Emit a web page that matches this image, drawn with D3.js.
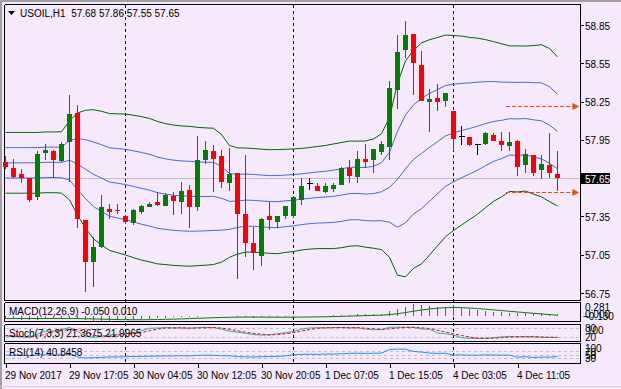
<!DOCTYPE html>
<html>
<head>
<meta charset="utf-8">
<script src="https://cdn.jsdelivr.net/npm/d3@7/dist/d3.min.js"></script>
<style>
	html, body { margin: 0; padding: 0; background: #f5e9fb; }
	svg { display: block; }
	text { font-family: "Liberation Sans", Arial, sans-serif; font-size: 10px; fill: #000; }
</style>
</head>
<body>
<div id="chart"></div>
<script>
// USOIL,H1 candles
var opens = [57.78,57.73,57.68,57.65,57.50,57.85,57.86,57.79,57.93,58.16,
	57.32,56.99,57.11,57.41,57.40,57.35,57.30,57.38,57.43,57.46,
	57.43,57.51,57.46,57.56,57.42,57.79,57.86,57.82,57.61,57.69,
	57.37,57.14,57.04,57.35,57.30,57.35,57.35,57.48,57.61,57.59,
	57.54,57.57,57.60,57.73,57.66,57.80,57.79,57.86,57.90,58.34,
	58.65,58.78,58.54,58.25,58.28,58.26,58.18,57.98,57.97,57.91,
	57.91,57.99,57.94,57.90,57.94,57.75,57.83,57.71,57.75,57.68];
var highs = [57.82,57.80,57.72,57.65,57.86,57.92,57.87,57.93,58.30,58.22,
	57.32,57.19,57.52,57.45,57.45,57.36,57.41,57.44,57.46,57.54,
	57.53,57.54,57.62,57.60,57.98,57.94,57.91,57.87,57.89,57.69,
	57.83,57.27,57.34,57.46,57.35,57.43,57.51,57.65,57.65,57.61,
	57.61,57.61,57.74,57.79,57.86,57.92,57.88,57.94,58.41,58.77,
	58.88,58.78,58.65,58.35,58.39,58.32,58.18,58.06,57.97,57.91,
	58.01,58.00,58.01,58.01,57.95,57.88,57.83,57.83,58.00,57.86];
var lows = [57.72,57.65,57.61,57.46,57.48,57.79,57.65,57.78,57.62,57.26,
	56.76,56.80,57.10,57.33,57.37,57.29,57.28,57.37,57.42,57.43,
	57.43,57.36,57.37,57.26,57.39,57.76,57.54,57.57,57.55,56.86,
	57.03,56.93,56.96,57.24,57.26,57.33,57.34,57.44,57.56,57.55,
	57.53,57.54,57.60,57.61,57.61,57.73,57.69,57.83,57.79,58.19,
	58.59,58.30,58.26,58.01,58.18,58.21,57.86,57.91,57.90,57.83,
	57.91,57.94,57.86,57.86,57.67,57.69,57.67,57.64,57.65,57.55];
var closes = [57.74,57.66,57.65,57.48,57.84,57.87,57.79,57.92,58.15,57.33,
	56.99,57.11,57.42,57.39,57.39,57.30,57.40,57.43,57.45,57.44,
	57.52,57.47,57.55,57.43,57.79,57.87,57.80,57.62,57.68,57.37,
	57.14,57.06,57.33,57.32,57.35,57.43,57.50,57.59,57.61,57.55,
	57.59,57.60,57.73,57.67,57.80,57.78,57.88,57.92,58.36,58.64,
	58.77,58.55,58.26,58.27,58.25,58.32,57.96,57.98,57.91,57.91,
	58.00,57.94,57.91,57.93,57.74,57.84,57.69,57.76,57.69,57.65];

// bollinger middle line and one deviation (blue = 1 dev, green = 2 dev)
var bbMid = [57.77,57.77,57.77,57.77,57.77,57.774,57.774,57.773,57.79,57.76,
	57.72,57.68,57.65,57.62,57.61,57.60,57.585,57.57,57.556,57.536,
	57.525,57.516,57.511,57.508,57.506,57.506,57.507,57.492,57.468,57.471,
	57.478,57.476,57.471,57.467,57.466,57.472,57.477,57.485,57.492,57.498,
	57.502,57.508,57.517,57.529,57.530,57.525,57.529,57.544,57.578,57.641,
	57.723,57.797,57.844,57.891,57.936,57.981,58.004,58.023,58.039,58.057,
	58.077,58.094,58.103,58.116,58.114,58.117,58.107,58.099,58.066,58.016];
var bbDev = [0.119,0.119,0.119,0.119,0.119,0.119,0.119,0.120,0.155,0.200,
	0.231,0.253,0.262,0.268,0.272,0.276,0.279,0.281,0.281,0.279,
	0.276,0.275,0.274,0.274,0.271,0.269,0.267,0.250,0.219,0.208,
	0.204,0.203,0.203,0.203,0.204,0.202,0.201,0.199,0.199,0.200,
	0.202,0.205,0.206,0.206,0.205,0.208,0.214,0.227,0.274,0.376,
	0.423,0.427,0.433,0.422,0.408,0.395,0.382,0.370,0.357,0.345,
	0.329,0.313,0.300,0.285,0.286,0.284,0.291,0.298,0.300,0.292];

var macdMain = [-0.085,-0.09,-0.095,-0.10,-0.095,-0.09,-0.09,-0.085,-0.07,-0.085,
	-0.11,-0.13,-0.125,-0.12,-0.115,-0.11,-0.10,-0.085,-0.07,-0.06,
	-0.05,-0.045,-0.04,-0.04,-0.025,-0.012,-0.008,-0.01,-0.012,-0.025,
	-0.04,-0.05,-0.045,-0.042,-0.038,-0.032,-0.024,-0.015,-0.008,-0.004,
	0.002,0.008,0.016,0.02,0.03,0.035,0.042,0.05,0.10,0.15,
	0.22,0.281,0.255,0.237,0.22,0.22,0.25,0.19,0.15,0.13,
	0.105,0.09,0.08,0.075,0.07,0.065,0.06,0.055,0.045,0.035];
var macdSignal = [-0.07,-0.07,-0.07,-0.07,-0.07,-0.07,-0.07,-0.07,-0.07,-0.07,
	-0.075,-0.08,-0.085,-0.09,-0.095,-0.098,-0.10,-0.10,-0.098,-0.095,
	-0.09,-0.085,-0.08,-0.072,-0.065,-0.058,-0.05,-0.045,-0.04,-0.037,
	-0.035,-0.035,-0.036,-0.037,-0.038,-0.038,-0.037,-0.035,-0.033,-0.03,
	-0.027,-0.023,-0.018,-0.012,-0.006,0.0,0.006,0.012,0.025,0.045,
	0.075,0.105,0.135,0.16,0.18,0.192,0.197,0.192,0.183,0.17,
	0.155,0.14,0.122,0.105,0.088,0.072,0.056,0.04,0.025,0.01];

var stochMain = [30,28,25,22,45,60,62,72,85,60,
	30,22,30,38,42,45,50,65,80,82,
	84,82,83,80,84,86,85,75,62,55,
	48,40,37,38,45,52,60,75,82,84,
	84,85,85,83,84,75,71,72,86,87,
	86,86,76,74,50,45,37,20,16,15,
	16,20,25,27,25,27,26,22,22,21.37];
var stochSignal = [35,31,28,25,31,42,56,65,73,72,
	58,37,27,30,37,42,46,53,65,75,
	82,83,83,82,82,83,85,82,74,64,
	55,48,42,38,40,45,52,62,72,80,
	83,84,85,84,84,81,77,73,76,82,
	86,86,83,79,67,56,44,34,24,17,
	16,17,20,24,26,26,26,25,23,22];

var rsi = [50,49,48,46,51,52,50,52,55,38,
	32,34,36,38,39,40,41,42,43,44,
	45,45,46,45,48,49,48,46,46,41,
	39,38,40,41,42,45,52,54,55,54,
	56,56,58,60,61,60,61,62,84,86,
	86,72,68,62,60,61,50,51,49,49,
	51,50,49,50,37,40,35,38,37,40.85];

var priceTicks = [58.85, 58.55, 58.25, 57.95, 57.65, 57.35, 57.05, 56.75];
var timeTicks = [0, 8, 16, 24, 32, 40, 48, 56, 64];
var timeLabels = ['29 Nov 2017', '29 Nov 17:05', '30 Nov 04:05', '30 Nov 12:05', '30 Nov 20:05',
	'1 Dec 07:05', '1 Dec 15:05', '4 Dec 03:05', '4 Dec 11:05'];
var daySeps = [15, 36, 56];
var levels = [58.21, 57.54];

var W = 621, H = 389
	, L = 4.5, R = 580.5
	, mainP = [4.5, 300.5], macdP = [302.5, 321.5], stochP = [324.5, 341.5], rsiP = [343.5, 363.5]
	, n = closes.length
	;

var x = d3.scaleLinear().domain([0, n - 1]).range([5.5, 557.5])
	, y = d3.scaleLinear().domain([56.75, 58.85]).range([293, 25])
	, macdY = d3.scaleLinear().domain([d3.min(macdMain.concat(macdSignal)), d3.max(macdMain)]).range([321, 304])
	, stochY = d3.scaleLinear().domain([0, 100]).range([340.8, 325.2])
	, rsiY = d3.scaleLinear().domain([0, 100]).range([363.3, 346.8])
	, crisp = function(v){ return Math.round(v - 0.5) + 0.5; }
	;

var svg = d3.select('#chart').append('svg').attr('width', W).attr('height', H);
svg.append('rect').attr('width', W).attr('height', H).attr('fill', '#f5e9fb');

// window edges
svg.append('rect').attr('x', 0).attr('y', 0).attr('width', 2).attr('height', H).attr('fill', '#a0a0a0');
svg.append('rect').attr('x', 0).attr('y', 0).attr('width', W).attr('height', 2).attr('fill', '#a0a0a0');
svg.append('line').attr('x1', 0).attr('x2', W).attr('y1', 386.5).attr('y2', 386.5).attr('stroke', '#d4d4d4');

var frame = svg.append('g').attr('stroke', '#000').attr('shape-rendering', 'crispEdges');
[mainP, macdP, stochP, rsiP].forEach(function(p){
	frame.append('line').attr('x1', L).attr('x2', R).attr('y1', p[0]).attr('y2', p[0]);
	frame.append('line').attr('x1', L).attr('x2', R).attr('y1', p[1]).attr('y2', p[1]);
	frame.append('line').attr('x1', L).attr('x2', L).attr('y1', p[0]).attr('y2', p[1]);
	frame.append('line').attr('x1', R).attr('x2', R).attr('y1', p[0]).attr('y2', p[1]);
});

// day separators
svg.append('g').selectAll('line').data(daySeps).enter().append('line')
	.attr('x1', function(d){ return x(d); }).attr('x2', function(d){ return x(d); })
	.attr('y1', 5).attr('y2', 363)
	.attr('stroke', '#000').attr('stroke-dasharray', '3,3').attr('shape-rendering', 'crispEdges');

// last price line
svg.append('line').attr('x1', L).attr('x2', R - 1)
	.attr('y1', crisp(y(closes[n - 1]))).attr('y2', crisp(y(closes[n - 1])))
	.attr('stroke', '#c0c0c0').attr('shape-rendering', 'crispEdges');

// bollinger bands
var bands = [
	{k: 2, c: '#006400'}, {k: 1, c: '#4169e1'}, {k: 0, c: '#4169e1'}, {k: -1, c: '#4169e1'}, {k: -2, c: '#006400'}
];
bands.forEach(function(b){
	var line = d3.line().x(function(d, i){ return x(i); }).y(function(d, i){ return y(d + b.k * bbDev[i]); });
	svg.append('path').attr('d', line(bbMid)).attr('fill', 'none').attr('stroke', b.c).attr('stroke-width', 1);
});

// candles
var cg = svg.append('g').attr('shape-rendering', 'crispEdges');
var colour = function(i){ return closes[i] > opens[i] ? '#008000' : closes[i] < opens[i] ? '#ff0000' : '#000000'; };
cg.selectAll('line.wick').data(d3.range(n)).enter().append('line').attr('class', 'wick')
	.attr('x1', function(i){ return x(i); }).attr('x2', function(i){ return x(i); })
	.attr('y1', function(i){ return y(highs[i]); }).attr('y2', function(i){ return y(lows[i]); })
	.attr('stroke', colour);
cg.selectAll('rect').data(d3.range(n).filter(function(i){ return closes[i] !== opens[i]; })).enter().append('rect')
	.attr('x', function(i){ return x(i) - 2.5; }).attr('width', 5)
	.attr('y', function(i){ return Math.round(y(Math.max(opens[i], closes[i]))); })
	.attr('height', function(i){ return Math.max(1, Math.round(Math.abs(y(opens[i]) - y(closes[i])))); })
	.attr('fill', colour);
cg.selectAll('line.doji').data(d3.range(n).filter(function(i){ return closes[i] === opens[i]; })).enter().append('line').attr('class', 'doji')
	.attr('x1', function(i){ return x(i) - 3; }).attr('x2', function(i){ return x(i) + 3; })
	.attr('y1', function(i){ return crisp(y(opens[i])); }).attr('y2', function(i){ return crisp(y(opens[i])); })
	.attr('stroke', '#000');

// orange target arrows
levels.forEach(function(v){
	var yy = crisp(y(v));
	svg.append('line').attr('x1', x(62.5)).attr('x2', R - 7).attr('y1', yy).attr('y2', yy)
		.attr('stroke', '#ff4500').attr('stroke-dasharray', '4,2').attr('shape-rendering', 'crispEdges');
	svg.append('path').attr('d', 'M' + (R - 8) + ',' + (yy - 3.5) + 'L' + (R - 1.5) + ',' + yy + 'L' + (R - 8) + ',' + (yy + 3.5) + 'Z')
		.attr('fill', '#ff4500');
});

// price axis
var pAxis = svg.append('g').attr('transform', 'translate(' + R + ',0)')
	.call(d3.axisRight(y).tickValues(priceTicks).tickSize(3).tickFormat(d3.format('.2f')));
pAxis.select('.domain').remove();
pAxis.selectAll('line').attr('stroke', '#000').attr('shape-rendering', 'crispEdges');
pAxis.selectAll('text').attr('x', 4.5).attr('dy', '0.4em').attr('font-family', null).attr('font-size', null);
pAxis.attr('font-family', null).attr('font-size', null);

// current price tag
svg.append('rect').attr('x', 580).attr('y', crisp(y(closes[n - 1])) - 5.5).attr('width', 30).attr('height', 11).attr('fill', '#000');
svg.append('text').attr('x', 585).attr('y', crisp(y(closes[n - 1])) + 4).style('fill', '#fff').text(d3.format('.2f')(closes[n - 1]));

// header
svg.append('path').attr('d', 'M8,11L15,11L11.5,15Z').attr('fill', '#000');
svg.append('text').attr('x', 20).attr('y', 16.5).attr('xml:space', 'preserve')
	.text('USOIL,H1  ' + [opens[n - 1], highs[n - 1], lows[n - 1], closes[n - 1]].map(d3.format('.2f')).join(' '));

// MACD pane
svg.append('g').attr('shape-rendering', 'crispEdges').selectAll('line').data(macdMain).enter().append('line')
	.attr('x1', function(d, i){ return x(i); }).attr('x2', function(d, i){ return x(i); })
	.attr('y1', Math.round(macdY(0))).attr('y2', function(d){ return Math.round(macdY(d)); })
	.attr('stroke', '#9932cc');
svg.append('path').attr('d', d3.line().x(function(d, i){ return x(i); }).y(function(d){ return macdY(d); })(macdSignal))
	.attr('fill', 'none').attr('stroke', '#008000');
svg.append('text').attr('x', 9).attr('y', 315).text('MACD(12,26,9) -0.050 0.010');
svg.append('text').attr('x', 585).attr('y', 311).text(d3.format('.3f')(d3.max(macdMain)));
svg.append('text').attr('x', 585).attr('y', 318).text('0.000');
svg.append('text').attr('x', 583).attr('y', 319.5).text(d3.format('.3f')(d3.min(macdMain)));

// Stochastic pane
[80, 20].forEach(function(v){
	svg.append('line').attr('x1', L + 1).attr('x2', R - 1).attr('y1', crisp(stochY(v))).attr('y2', crisp(stochY(v)))
		.attr('stroke', '#c0c0c0').attr('stroke-dasharray', '3,3').attr('shape-rendering', 'crispEdges');
});
svg.append('path').attr('d', d3.line().x(function(d, i){ return x(i); }).y(function(d){ return stochY(d); })(stochMain))
	.attr('fill', 'none').attr('stroke', '#20b2aa');
svg.append('path').attr('d', d3.line().x(function(d, i){ return x(i); }).y(function(d){ return stochY(d); })(stochSignal))
	.attr('fill', 'none').attr('stroke', '#ff0000').attr('stroke-dasharray', '3,2');
svg.append('text').attr('x', 9).attr('y', 337).text('Stoch(7,3,3) 21.3675 21.9965');
svg.append('text').attr('x', 585).attr('y', 331.5).text('80');
svg.append('text').attr('x', 587).attr('y', 333.5).text('100');
svg.append('text').attr('x', 585).attr('y', 340.5).text('20');

// RSI pane
[70, 50, 30].forEach(function(v){
	svg.append('line').attr('x1', L + 1).attr('x2', R - 1).attr('y1', crisp(rsiY(v))).attr('y2', crisp(rsiY(v)))
		.attr('stroke', '#c0c0c0').attr('stroke-dasharray', '3,3').attr('shape-rendering', 'crispEdges');
});
svg.append('path').attr('d', d3.line().x(function(d, i){ return x(i); }).y(function(d){ return rsiY(d); })(rsi))
	.attr('fill', 'none').attr('stroke', '#1e90ff');
svg.append('text').attr('x', 9).attr('y', 355.5).text('RSI(14) 40.8458');
svg.append('text').attr('x', 585).attr('y', 352.3).text('100');
[70, 50, 30].forEach(function(v){
	svg.append('text').attr('x', 585).attr('y', rsiY(v) + 3.8).text(v);
});

// time axis
var tAxis = svg.append('g').attr('transform', 'translate(0,' + rsiP[1] + ')')
	.call(d3.axisBottom(x).tickValues(timeTicks).tickSize(4).tickFormat(function(d, i){ return timeLabels[i]; }));
tAxis.select('.domain').remove();
tAxis.selectAll('line').attr('stroke', '#000').attr('shape-rendering', 'crispEdges');
tAxis.selectAll('text').attr('text-anchor', 'start').attr('x', -1).attr('y', 15.5).attr('dy', null);
tAxis.attr('font-family', null).attr('font-size', null);
</script>
</body>
</html>
